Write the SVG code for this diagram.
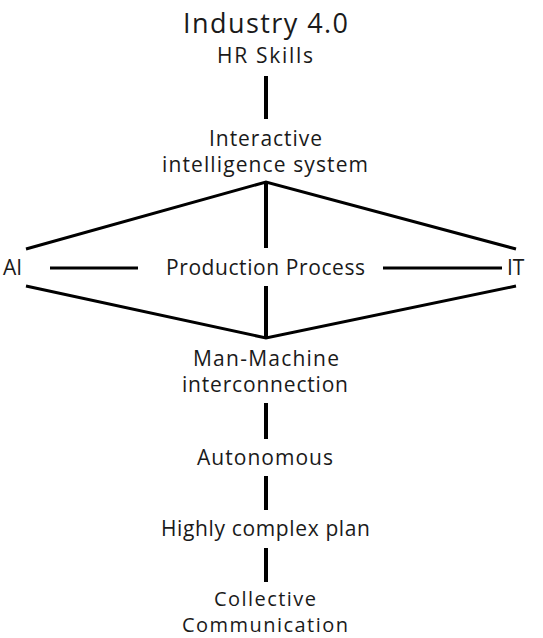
<svg xmlns="http://www.w3.org/2000/svg" width="543" height="638" viewBox="0 0 543 638">
<style>
text{font-family:"Open Sans","Noto Sans","Liberation Sans",sans-serif;fill:#1a1a1a;text-anchor:middle;font-size:21px;font-variant-ligatures:none}
.title{font-size:27px}
.sm{font-size:20px}
.c{stroke:#000;fill:none;stroke-linecap:butt}
.v{stroke-width:4}
.d{stroke-width:3}
</style>
<rect width="543" height="638" fill="#fff"/>
<g id="connectors">
<line class="c v" x1="266" y1="76" x2="266" y2="119"/>
<polyline class="c d" points="26,249 266,182 516,249"/>
<line class="c v" x1="266" y1="182" x2="266" y2="248"/>
<line class="c d" x1="50" y1="268" x2="138" y2="268"/>
<line class="c d" x1="383" y1="268" x2="502" y2="268"/>
<polyline class="c d" points="26,286 266,338 516,286"/>
<line class="c v" x1="266" y1="286" x2="266" y2="338"/>
<line class="c v" x1="266" y1="403" x2="266" y2="439"/>
<line class="c v" x1="266" y1="476" x2="266" y2="510"/>
<line class="c v" x1="266" y1="548" x2="266" y2="582"/>
</g>
<g id="n-industry"><text class="title" x="265.5" y="33" textLength="165">Industry 4.0</text></g>
<g id="n-hr"><text x="265" y="63" textLength="96">HR Skills</text></g>
<g id="n-interactive"><text x="265.5" y="146" textLength="113">Interactive</text><text x="265" y="172" textLength="206">intelligence  system</text></g>
<g id="n-ai"><text x="3" y="275" style="text-anchor:start">AI</text></g>
<g id="n-production"><text x="265.5" y="275" textLength="199">Production Process</text></g>
<g id="n-it"><text x="507" y="275" style="text-anchor:start">IT</text></g>
<g id="n-manmachine"><text x="266" y="366" textLength="146">Man-Machine</text><text x="265" y="392" textLength="166">interconnection</text></g>
<g id="n-autonomous"><text x="265" y="465" textLength="136">Autonomous</text></g>
<g id="n-plan"><text x="265.5" y="536" textLength="209">Highly complex plan</text></g>
<g id="n-collective"><text class="sm" x="265" y="606" textLength="102">Collective</text><text class="sm" x="265" y="632" textLength="166">Communication</text></g>
</svg>
